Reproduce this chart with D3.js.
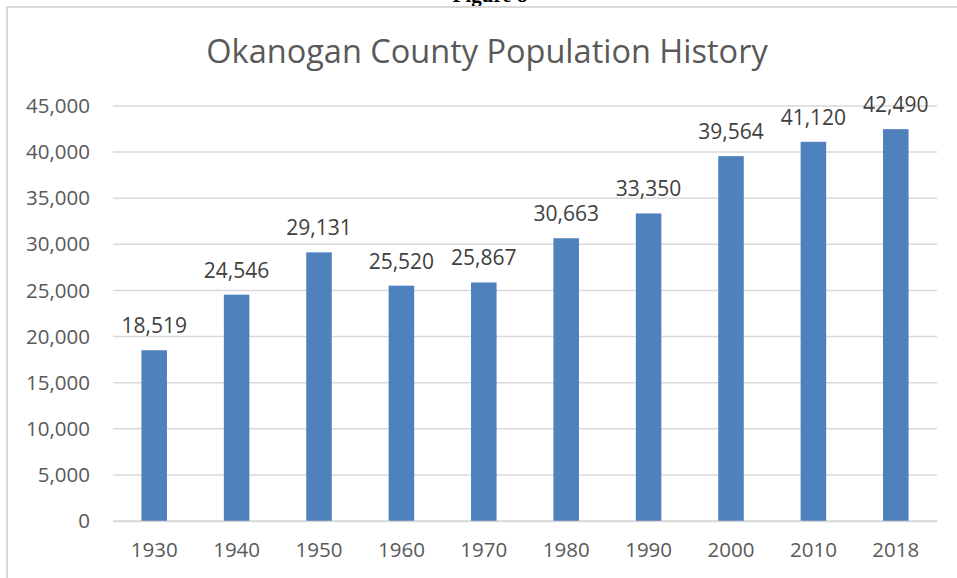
<!DOCTYPE html>
<meta charset="utf-8">
<style>
body { margin: 0; background: #fff; }
.axis text { font-family: "Open Sans", sans-serif; fill: #595959; }
</style>
<body>
<div id="chart"></div>
<script src="https://d3js.org/d3.v7.min.js"></script>
<script>
// chart data
var years = ["1930", "1940", "1950", "1960", "1970", "1980", "1990", "2000", "2010", "2018"];
var population = [18519, 24546, 29131, 25520, 25867, 30663, 33350, 39564, 41120, 42490];
var yTicks = [0, 5000, 10000, 15000, 20000, 25000, 30000, 35000, 40000, 45000];

var W = 957, H = 578;
var margin = {top: 106, right: 20, bottom: 57, left: 113};
var width = W - margin.left - margin.right,
    height = H - margin.top - margin.bottom;

var svg = d3.select("#chart").append("svg")
    .attr("width", W)
    .attr("height", H);

// caption of the page, cut off by the top of the picture
svg.append("text")
    .attr("x", 490)
    .attr("y", 2)
    .attr("text-anchor", "middle")
    .style("font", "bold 21px 'Liberation Serif', serif")
    .style("fill", "#000")
    .text("Figure 8");

// chart frame (left + top edges)
svg.append("path")
    .attr("d", "M7," + H + "V7H" + W)
    .style("fill", "none")
    .style("stroke", "#d9d9d9")
    .style("stroke-width", 2);

svg.append("text")
    .attr("x", 487)
    .attr("y", 63)
    .attr("text-anchor", "middle")
    .style("font", "32.5px 'Open Sans', sans-serif")
    .style("fill", "#595959")
    .text("Okanogan County Population History");

var g = svg.append("g")
    .attr("transform", "translate(" + margin.left + "," + margin.top + ")");

var x = d3.scaleBand().domain(years).range([0, width]).paddingInner(0.69).paddingOuter(0.345);
var y = d3.scaleLinear().domain([0, 45000]).range([height, 0]);

// gridlines
g.append("g")
    .selectAll("line")
    .data(yTicks)
    .enter().append("line")
    .attr("x1", 0).attr("x2", width)
    .attr("y1", function(d) { return y(d); })
    .attr("y2", function(d) { return y(d); })
    .style("stroke", "#d9d9d9")
    .style("stroke-width", 1.5);

// y axis labels
var yAxis = g.append("g")
    .attr("class", "axis")
    .call(d3.axisLeft(y).tickValues(yTicks).tickFormat(d3.format(",")).tickSize(0).tickPadding(23));
yAxis.select(".domain").remove();
yAxis.selectAll("text").style("font-size", "20.5px");

// bars
g.selectAll(".bar")
    .data(population)
    .enter().append("rect")
    .attr("x", function(d, i) { return x(years[i]); })
    .attr("y", function(d) { return y(d); })
    .attr("width", x.bandwidth())
    .attr("height", function(d) { return height - y(d); })
    .style("fill", "#4f81bd");

// data labels
g.selectAll(".lbl")
    .data(population)
    .enter().append("text")
    .attr("x", function(d, i) { return x(years[i]) + x.bandwidth() / 2; })
    .attr("y", function(d) { return y(d) - 17; })
    .attr("text-anchor", "middle")
    .style("font", "21px 'Open Sans', sans-serif")
    .style("fill", "#404040")
    .text(function(d) { return d3.format(",")(d); });

// x axis
var xAxis = g.append("g")
    .attr("class", "axis")
    .attr("transform", "translate(0," + height + ")")
    .call(d3.axisBottom(x).tickSize(0).tickPadding(21));
xAxis.select(".domain").style("stroke", "#d9d9d9").style("stroke-width", 1.5);
xAxis.selectAll("text").style("font-size", "20.5px");
</script>
</body>
